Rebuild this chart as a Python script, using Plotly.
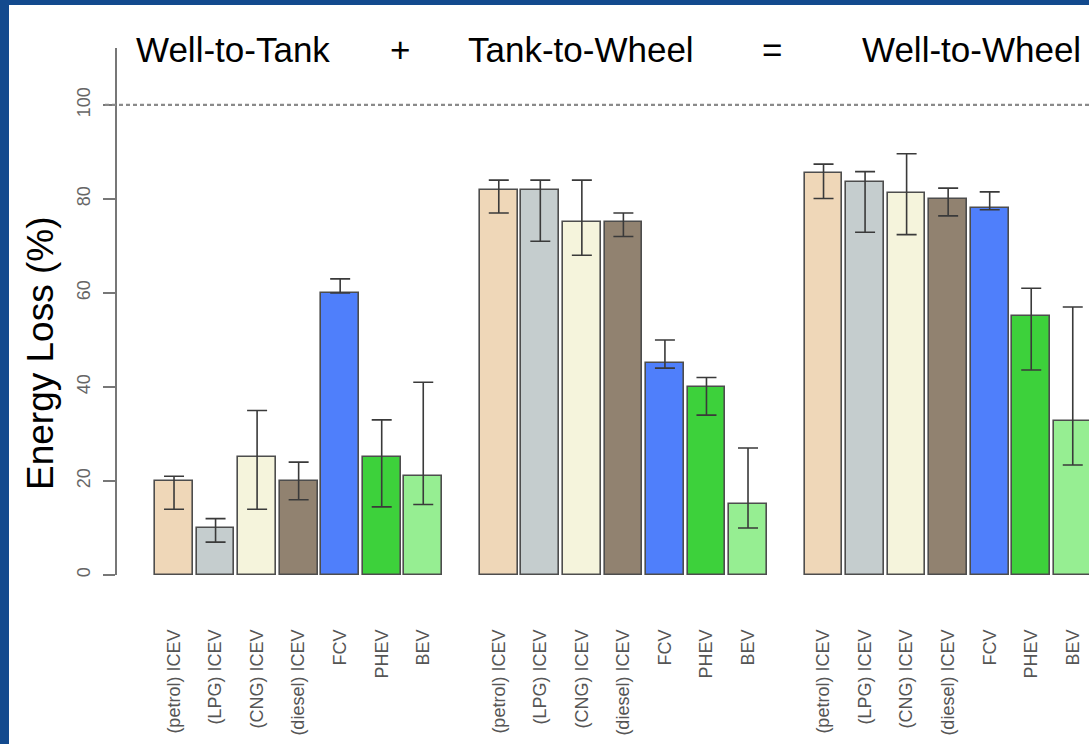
import plotly.graph_objects as go

# vehicle types (one bar per type inside each group)
vehicles = ["(petrol) ICEV", "(LPG) ICEV", "(CNG) ICEV", "(diesel) ICEV", "FCV", "PHEV", "BEV"]
groups = ["Well-to-Tank", "Tank-to-Wheel", "Well-to-Wheel"]
colors = ["#EFD7B8", "#C5CDCE", "#F5F4DC", "#918270", "#4F7FFB", "#3DD13B", "#96EE92"]

# energy loss (%) per group, in vehicle order
wtt = [20, 10, 25, 20, 60, 25, 21]
ttw = [82, 82, 75, 75, 45, 40, 15]
wtw = [85.6, 83.7, 81.3, 80, 78, 55, 32.7]

# error bar upper / lower bounds
wtt_hi = [21, 12, 35, 24, 63, 33, 41]
wtt_lo = [14, 7, 14, 16, 60, 14.5, 15]
ttw_hi = [84, 84, 84, 77, 50, 42, 27]
ttw_lo = [77, 71, 68, 72, 44, 34, 10]
wtw_hi = [87.4, 85.8, 89.6, 82.3, 81.5, 61, 57]
wtw_lo = [80.1, 72.9, 72.4, 76.4, 77.7, 43.6, 23.4]

values = [wtt, ttw, wtw]
highs = [wtt_hi, ttw_hi, wtw_hi]
lows = [wtt_lo, ttw_lo, wtw_lo]

step = 1.1      # bar + small gap
period = 8.6    # one group incl. the wider gap


def xpos(g, i):
    return g * period + i * step


fig = go.Figure()
for i, name in enumerate(vehicles):
    xs = [xpos(g, i) for g in range(3)]
    ys = [values[g][i] for g in range(3)]
    up = [highs[g][i] - values[g][i] for g in range(3)]
    dn = [values[g][i] - lows[g][i] for g in range(3)]
    fig.add_trace(go.Bar(
        x=xs, y=ys, width=1.0, name=name,
        marker=dict(color=colors[i], line=dict(color="#4d4d4d", width=1.6)),
        error_y=dict(type="data", symmetric=False, array=up, arrayminus=dn,
                     color="#3a3a3a", thickness=1.6, width=10),
        showlegend=False,
    ))

tickvals = [xpos(g, i) for g in range(3) for i in range(7)]
ticktext = [v for g in range(3) for v in vehicles]

fig.update_layout(
    width=1089, height=744,
    paper_bgcolor="#134A8E",
    plot_bgcolor="white",
    margin=dict(l=117, r=0, t=48, b=169),
    font=dict(family="Liberation Sans, Arial, sans-serif"),
    bargap=0,
)

fig.update_xaxes(
    range=[-1.51, 24.23],
    tickmode="array", tickvals=tickvals, ticktext=ticktext,
    tickangle=-90, ticks="", ticklabelstandoff=50,
    tickfont=dict(size=18, color="#555555"),
    showgrid=False, zeroline=False, showline=False,
)
fig.update_yaxes(
    range=[0, 112.1],
    tickvals=[0, 20, 40, 60, 80, 100],
    tickangle=-90, ticks="outside", ticklen=12, tickwidth=2, tickcolor="#777777",
    ticklabelstandoff=6,
    tickfont=dict(size=18, color="#666666"),
    showgrid=False, zeroline=False,
    showline=True, linecolor="#777777", linewidth=2,
)

# white panel of the slide
fig.add_shape(type="rect", xref="paper", yref="paper",
              x0=(9 - 117) / 972, x1=1.01, y0=(575 - 745) / 527, y1=(575 - 5) / 527,
              fillcolor="white", line=dict(width=0), layer="below")

# dotted 100% line
fig.add_shape(type="line", xref="paper", yref="y",
              x0=(105 - 117) / 972, x1=1, y0=100, y1=100,
              line=dict(color="#8a8a8a", width=2.2, dash="4px,3px"))

# headings over the groups
heads = [("Well-to-Tank", 233), ("+", 400), ("Tank-to-Wheel", 581), ("=", 772), ("Well-to-Wheel", 971)]
for txt, px in heads:
    fig.add_annotation(text=txt, xref="paper", yref="paper",
                       x=(px - 117) / 972, y=(575 - 50) / 527,
                       xanchor="center", yanchor="middle", showarrow=False,
                       font=dict(size=35, color="black"))

fig.add_annotation(text="Energy Loss (%)", xref="paper", yref="paper",
                   x=(40 - 117) / 972, y=(575 - 353) / 527, textangle=-90,
                   xanchor="center", yanchor="middle", showarrow=False,
                   font=dict(size=37, color="black"))

fig.write_html("out.html", config={"displayModeBar": False},
               post_script="document.body.style.margin='0';")
